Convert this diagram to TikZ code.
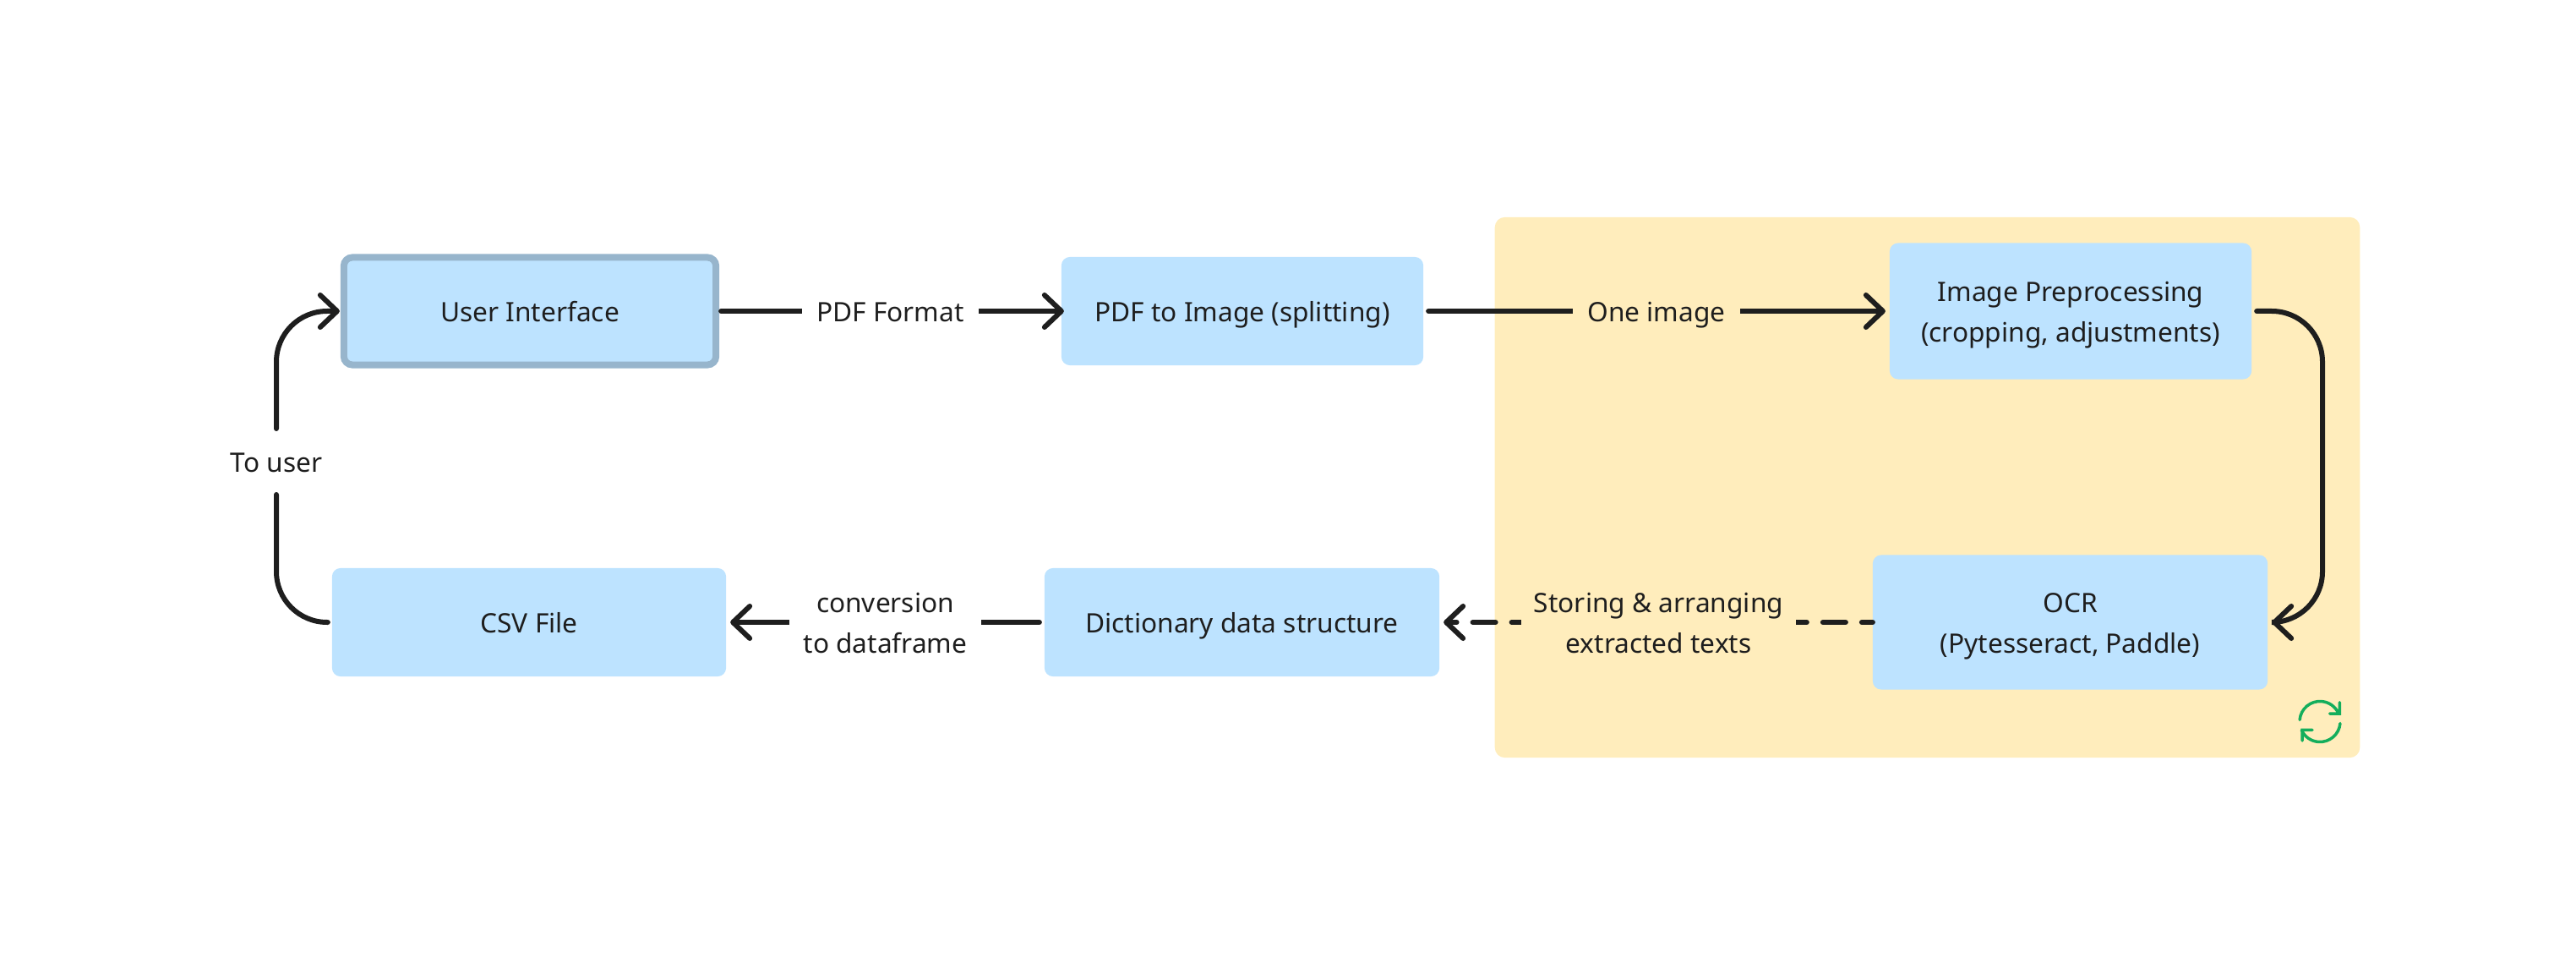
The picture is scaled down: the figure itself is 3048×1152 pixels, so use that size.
\documentclass[tikz,border=0pt]{standalone}
\usepackage{fontspec}
\setmainfont{Noto Sans}
\usetikzlibrary{arrows.meta}
\definecolor{boxblue}{HTML}{BDE3FF}
\definecolor{panelyellow}{HTML}{FFEDBC}
\definecolor{uiborder}{HTML}{97B5CC}
\definecolor{loopgreen}{HTML}{14AE5C}
\definecolor{inkblack}{HTML}{1E1E1E}

\begin{document}
\begin{tikzpicture}[x=0.01cm,y=-0.01cm,->,>={Straight Barb[length=.2cm,width=.38cm,round]},
    line width=.06cm,line cap=round,draw=inkblack,text=inkblack,shorten >=.05cm,shorten <=.06cm,
    font=\fontsize{9pt}{13.65pt}\selectfont,
    one line/.style={text height=.24cm,text depth=0pt},
    two lines/.style={text height=.72cm,text depth=0pt},
    proc node/.style={fill=boxblue,rounded corners=.1cm,align=center,outer sep=0pt,inner sep=0pt}]

\useasboundingbox (0,0) rectangle (3048,1152);

\node[fill=panelyellow, rounded corners=.12cm, outer sep=0pt, minimum width=10.23cm, minimum height=6.39cm] (panel) at (2280.5,576.5) {};

\node[proc node, one line, draw=uiborder, line width=.08cm, minimum width=4.40cm, minimum height=1.27cm] (ui) at (627,368) {User Interface};
\node[proc node, one line, minimum width=4.28cm, minimum height=1.28cm] (pdfimg) at (1470,368) {PDF to Image (splitting)};
\node[proc node, two lines, minimum width=4.28cm, minimum height=1.61cm] (imgprep) at (2450,368) {Image Preprocessing\\(cropping, adjustments)};
\node[proc node, two lines, minimum width=4.67cm, minimum height=1.59cm] (ocr) at (2449.5,736) {OCR\\(Pytesseract, Paddle)};
\node[proc node, one line, minimum width=4.67cm, minimum height=1.28cm] (dict) at (1469.5,736) {Dictionary data structure};
\node[proc node, one line, minimum width=4.66cm, minimum height=1.28cm] (csv) at (626,736) {CSV File};

\node[one line, inner xsep=0pt, inner ysep=.24cm] (touser) at (327,546) {To user};
\coordinate (bendR) at (2748,552);

\path[every node/.style={fill=white, align=center, inner xsep=.17cm}]
(ui) edge [shorten >=-.03cm] node[one line, xshift=.02cm] {PDF Format} (pdfimg)
(dict) edge node[two lines] {conversion\\to dataframe} (csv);

\path[every node/.style={fill=panelyellow, align=center, inner xsep=.17cm}]
(pdfimg) edge node[one line] {One image} (imgprep)
(ocr) edge [shorten <=0pt, dash pattern=on .27cm off .19cm, dash phase=.14cm] node[two lines, xshift=.03cm, inner xsep=.15cm] {Storing \& arranging\\extracted texts} (dict);

\draw[-, rounded corners=.6cm, shorten <=0pt] (touser) |- (csv.west);
\draw[rounded corners=.6cm, shorten <=0pt] (touser) |- (ui.west);
\draw[rounded corners=.6cm] (imgprep.east) -| (bendR) |- (ocr.east);

% loop icon
\draw[-, loopgreen, line width=.035cm, shorten <=0pt, shorten >=0pt]
(2745,853.5) ++(175:.24cm) arc[start angle=175, end angle=25, radius=.24cm]
(2768.3,830.7) -- (2768.3,844) -- (2756.7,844)
(2745,853.5) ++(-5:.24cm) arc[start angle=-5, end angle=-155, radius=.24cm]
(2736,863.3) -- (2724,863.3) -- (2724,876);

\end{tikzpicture}
\end{document}
